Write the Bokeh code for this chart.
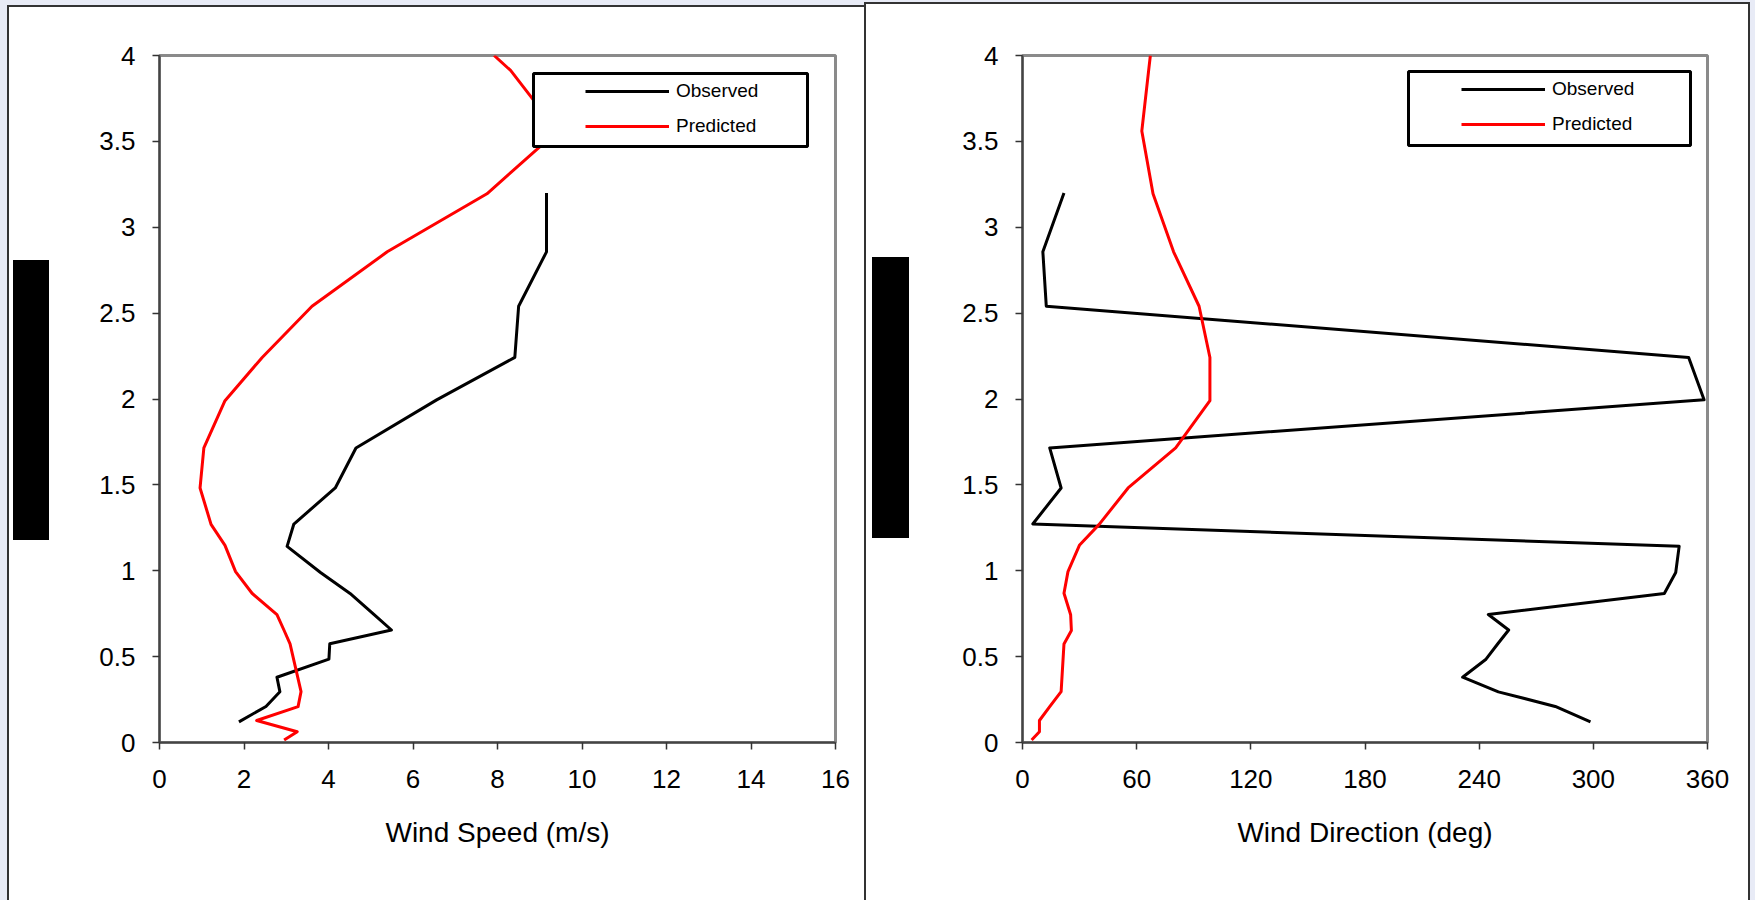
from bokeh.plotting import figure
from bokeh.models import (Range1d, FixedTicker, CustomJSTickFormatter, BoxAnnotation,
                          Legend, LegendItem)
from bokeh.layouts import row
from bokeh.embed import file_html
from bokeh.resources import INLINE

# ---------------- data ----------------
heights_obs = [0.12, 0.21, 0.295, 0.38, 0.485, 0.575, 0.655, 0.745, 0.868, 0.99,
               1.142, 1.272, 1.482, 1.715, 1.995, 2.242, 2.54, 2.857, 3.2]
speed_obs = [1.88, 2.52, 2.85, 2.78, 4.01, 4.03, 5.49, 5.08, 4.51, 3.81,
             3.02, 3.18, 4.16, 4.65, 6.56, 8.41, 8.50, 9.16, 9.16]
dir_obs = [298.5, 280.0, 250.1, 231.3, 243.6, 249.8, 255.5, 244.8, 337.3, 343.3,
           345.1, 5.4, 20.3, 14.3, 358.2, 350.1, 12.5, 10.7, 21.8]

heights_pred = [0.015, 0.063, 0.128, 0.209, 0.296, 0.574, 0.652, 0.744, 0.869, 0.995,
                1.148, 1.27, 1.482, 1.715, 1.99, 2.242, 2.54, 2.857, 3.195, 3.56,
                3.913, 4.0]
speed_pred = [2.95, 3.26, 2.30, 3.28, 3.35, 3.09, 2.95, 2.78, 2.19, 1.80,
              1.55, 1.22, 0.96, 1.05, 1.55, 2.43, 3.61, 5.39, 7.75, 9.42,
              8.31, 7.92]
dir_pred = [4.8, 8.9, 8.9, 14.3, 20.3, 21.8, 25.7, 25.3, 21.8, 23.9,
            29.9, 40.3, 55.5, 80.5, 98.5, 98.5, 92.8, 79.4, 68.6, 62.7,
            66.3, 67.2]

height_ticks = [0, 0.5, 1, 1.5, 2, 2.5, 3, 3.5, 4]
speed_ticks = [0, 2, 4, 6, 8, 10, 12, 14, 16]
dir_ticks = [0, 60, 120, 180, 240, 300, 360]
series_names = ["Observed", "Predicted"]
speed_title = "Wind Speed (m/s)"
dir_title = "Wind Direction (deg)"

FONT = "Liberation Sans"
H = 900
LAV = "#e8ebf6"
EDGE = "#333333"


def css_box(color, x, y, w, h):
    return f"linear-gradient({color},{color}) {x}px {y}px / {w}px {h}px no-repeat"


# panel decorations painted behind the (transparent) plot borders
bg1 = ", ".join([
    css_box("#000000", 13, 260, 36, 280),      # covered y-axis title
    css_box(EDGE, 7, 5, 2, 895),               # left edge of panel
    css_box(EDGE, 7, 5, 857, 2),               # top edge of panel
    css_box("#ffffff", 7, 5, 857, 895),        # panel
    LAV,
])
bg2 = ", ".join([
    css_box("#000000", 8, 257, 37, 281),       # covered y-axis title
    css_box(EDGE, 0, 2, 2, 898),               # divider / left edge
    css_box(EDGE, 0, 2, 886, 2),               # top edge
    css_box(EDGE, 884, 2, 2, 898),             # right edge
    css_box("#ffffff", 0, 2, 886, 898),        # panel
    LAV,
])


def make_panel(width, x_end, xticks, xtitle, xobs, xpred, mb, legend_box, legend_loc, bg):
    left, right, top, bottom = mb
    p = figure(width=width, height=H, x_range=Range1d(0, x_end), y_range=Range1d(0, 4),
               output_backend="svg", toolbar_location=None,
               min_border_left=left, min_border_right=right,
               min_border_top=top, min_border_bottom=bottom,
               styles={"background": bg})
    p.border_fill_color = None
    p.background_fill_color = "white"
    p.outline_line_color = "#8a8a8a"
    p.outline_line_width = 3
    p.xgrid.visible = False
    p.ygrid.visible = False

    for ax in (p.xaxis[0], p.yaxis[0]):
        ax.axis_line_color = "#444444"
        ax.axis_line_width = 2
        ax.major_tick_line_color = "#333333"
        ax.major_tick_line_width = 1.5
        ax.major_tick_in = 0
        ax.major_tick_out = 7
        ax.minor_tick_line_color = None
        ax.major_label_text_font = FONT
        ax.major_label_text_font_size = "26px"
        ax.major_label_text_color = "black"

    p.xaxis.ticker = FixedTicker(ticks=xticks)
    p.xaxis.major_label_standoff = 20
    p.xaxis.axis_label = xtitle
    p.xaxis.axis_label_text_font = FONT
    p.xaxis.axis_label_text_font_size = "28px"
    p.xaxis.axis_label_text_font_style = "normal"
    p.xaxis.axis_label_text_color = "black"
    p.xaxis.axis_label_standoff = 26

    p.yaxis.ticker = FixedTicker(ticks=height_ticks)
    p.yaxis.formatter = CustomJSTickFormatter(code="return String(tick);")
    p.yaxis.major_label_standoff = 17

    r_obs = p.line(xobs, heights_obs, line_color="black", line_width=3, line_join="round")
    r_pred = p.line(xpred, heights_pred, line_color="#ff0000", line_width=3, line_join="round")

    # legend frame
    bl, br, bb, bt = legend_box
    p.add_layout(BoxAnnotation(left=bl, right=br, bottom=bb, top=bt,
                               left_units="screen", right_units="screen",
                               bottom_units="screen", top_units="screen",
                               fill_color="white", fill_alpha=1.0,
                               line_color="black", line_alpha=1.0, line_width=3))
    legend = Legend(items=[LegendItem(label=series_names[0], renderers=[r_obs]),
                           LegendItem(label=series_names[1], renderers=[r_pred])],
                    location=legend_loc, orientation="vertical",
                    padding=0, margin=0, spacing=13,
                    glyph_width=84, glyph_height=20, label_height=20,
                    label_standoff=7,
                    label_text_font=FONT, label_text_font_size="19px",
                    label_text_color="black",
                    border_line_alpha=0, background_fill_alpha=0)
    p.add_layout(legend, "center")
    return p


p1 = make_panel(864, 16, speed_ticks, speed_title, speed_obs, speed_pred,
                (159, 29, 55, 157),
                (374, 648, 596, 669), (426, 605), bg1)

p2 = make_panel(891, 360, dir_ticks, dir_title, dir_obs, dir_pred,
                (158, 48, 52, 158),
                (386, 668, 597, 671), (439, 607), bg2)

layout = row(p1, p2)
open("out.html", "w").write(file_html(layout, INLINE))
